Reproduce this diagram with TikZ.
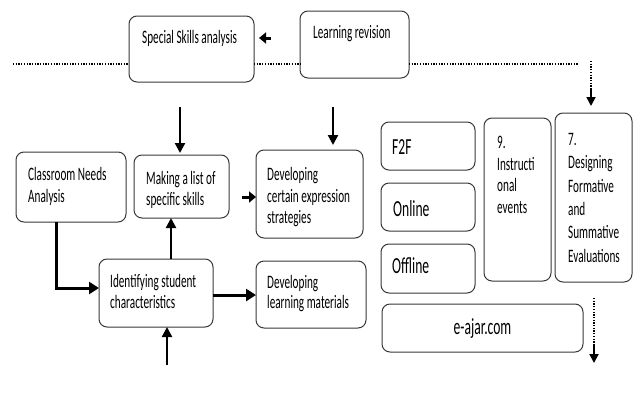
\documentclass[tikz,border=0pt]{standalone}
\usepackage{fontspec}
\setmainfont{Carlito}[FakeStretch=0.59]
\usetikzlibrary{arrows.meta,calc}
\tikzset{
  box/.style={draw=black!78, line width=1pt, rounded corners=8pt, inner sep=0pt, outer sep=0pt},
  txt/.style={inner sep=0pt, anchor=north west, align=left, font=\fontsize{19}{21.5}\selectfont},
  bigtxt/.style={inner sep=0pt, anchor=north west, align=left, font=\fontsize{23}{24}\selectfont},
  arr/.style={line width=2.2pt, -{Triangle[length=10pt,width=10pt]}},
  thickarr/.style={line width=3pt, -{Triangle[length=10pt,width=12pt]}},
  sarr/.style={line width=3pt, -{Triangle[length=7pt,width=11pt]}},
  dots/.style={line width=1.5pt, dash pattern=on 1.3pt off 1.4pt},
}
\begin{document}
\begin{tikzpicture}[x=1pt,y=-1pt]
\useasboundingbox (0,0) rectangle (634,394);
% boxes
\node[box, minimum width=125pt, minimum height=66pt] (ssa) at (191.5,49) {};
\node[box, minimum width=109pt, minimum height=67pt] (lr) at (354.5,44.5) {};
\node[box, minimum width=110pt, minimum height=70pt] (cna) at (71,187) {};
\node[box, minimum width=95pt, minimum height=63pt] (mls) at (181.5,186.5) {};
\node[box, minimum width=107pt, minimum height=88pt] (dces) at (309.5,194) {};
\node[box, minimum width=114pt, minimum height=68pt] (isc) at (156,293) {};
\node[box, minimum width=110pt, minimum height=67pt] (dlm) at (311,294.5) {};
\node[box, minimum width=94pt, minimum height=48pt] (f2f) at (428,146) {};
\node[box, minimum width=94pt, minimum height=48pt] (onl) at (428,207) {};
\node[box, minimum width=94pt, minimum height=49pt] (off) at (428,268.5) {};
\node[box, minimum width=67pt, minimum height=163pt] (ie) at (517.5,199.5) {};
\node[box, minimum width=77pt, minimum height=169pt] (dfse) at (593.5,197.5) {};
\node[box, minimum width=201pt, minimum height=48pt] (eaj) at (482.5,328) {};
% texts
\node[txt] (ssat) at (142,30.3) {Special Skills analysis};
\node[txt] (lrt) at (313,25.3) {Learning revision};
\node[txt] (cnat) at (28,167.3) {Classroom Needs\\Analysis};
\node[txt, font=\fontsize{19}{20.5}\selectfont] (mlst) at (146,171.3) {Making a list of\\specific skills};
\node[txt] (dcest) at (267,167.3) {Developing\\certain expression\\strategies};
\node[txt, font=\fontsize{19}{20.5}\selectfont] (isct) at (110,274.3) {Identifying student\\characteristics};
\node[txt, font=\fontsize{19}{20}\selectfont] (dlmt) at (267,275.3) {Developing\\learning materials};
\node[bigtxt] (f2ft) at (392,139.4) {F2F};
\node[bigtxt] (onlt) at (393,200.4) {Online};
\node[bigtxt] (offt) at (392,257.8) {Offline};
\node[txt, font=\fontsize{19}{21.7}\selectfont] (iet) at (497,135.9) {9.\\Instructi\\onal\\events};
\node[txt, font=\fontsize{19}{23.4}\selectfont] (dfset) at (568,132.9) {7.\\Designing\\Formative\\and\\Summative\\Evaluations};
\node[inner sep=0pt, font=\fontsize{23}{24}\selectfont] (eajt) at (482.5,329) {e-ajar.com};
% dotted line
\coordinate (dl0) at (13,64);
\coordinate (dl1) at (579,64);
\draw[dots] (dl0) -- (dl0 -| ssa.west);
\draw[dots] (ssa.east |- dl0) -- (lr.west |- dl0);
\draw[dots] (lr.east |- dl0) -- (dl1);
\coordinate (dv0) at (591,61);
\coordinate (dv1) at (591,89);
\coordinate (dv2) at (591,106);
\draw[dots] (dv0) -- (dv1);
\draw[line width=1.8pt, -{Triangle[length=9pt,width=9pt]}] ([yshift=1pt]dv1) -- (dv2);
% bottom right dotted arrow
\coordinate (bv0) at (594,298);
\coordinate (bv1) at (594,346);
\coordinate (bv2) at (594,363);
\draw[dots] (bv0) -- (bv1);
\draw[line width=1.8pt, -{Triangle[length=9pt,width=9pt]}] ([yshift=1pt]bv1) -- (bv2);
% arrows
\draw[sarr] ([xshift=17pt,yshift=11pt]ssa.east) -- ([xshift=5pt,yshift=11pt]ssa.east);
\coordinate (t1) at (180,107);
\draw[arr] (t1) -- ([yshift=2pt]t1 |- mls.north);
\coordinate (t2) at (333,107);
\draw[arr] (t2) -- ([yshift=5pt]t2 |- dces.north);
\draw[arr] ([xshift=15pt]isc.north) -- ([xshift=15pt]isc.north |- mls.south);
\coordinate (m1) at ([xshift=13pt,yshift=-10.5pt]mls.east);
\draw[sarr] (m1) -- (m1 -| dces.west);
\draw[thickarr] ([xshift=-15pt]cna.south) |- ([yshift=5pt]isc.west);
\draw[thickarr] ([yshift=-2pt]isc.east) -- ([yshift=-2pt]isc.east -| dlm.west);
\coordinate (b1) at (167,365);
\draw[arr] (b1) -- (b1 |- isc.south);
\end{tikzpicture}
\end{document}
